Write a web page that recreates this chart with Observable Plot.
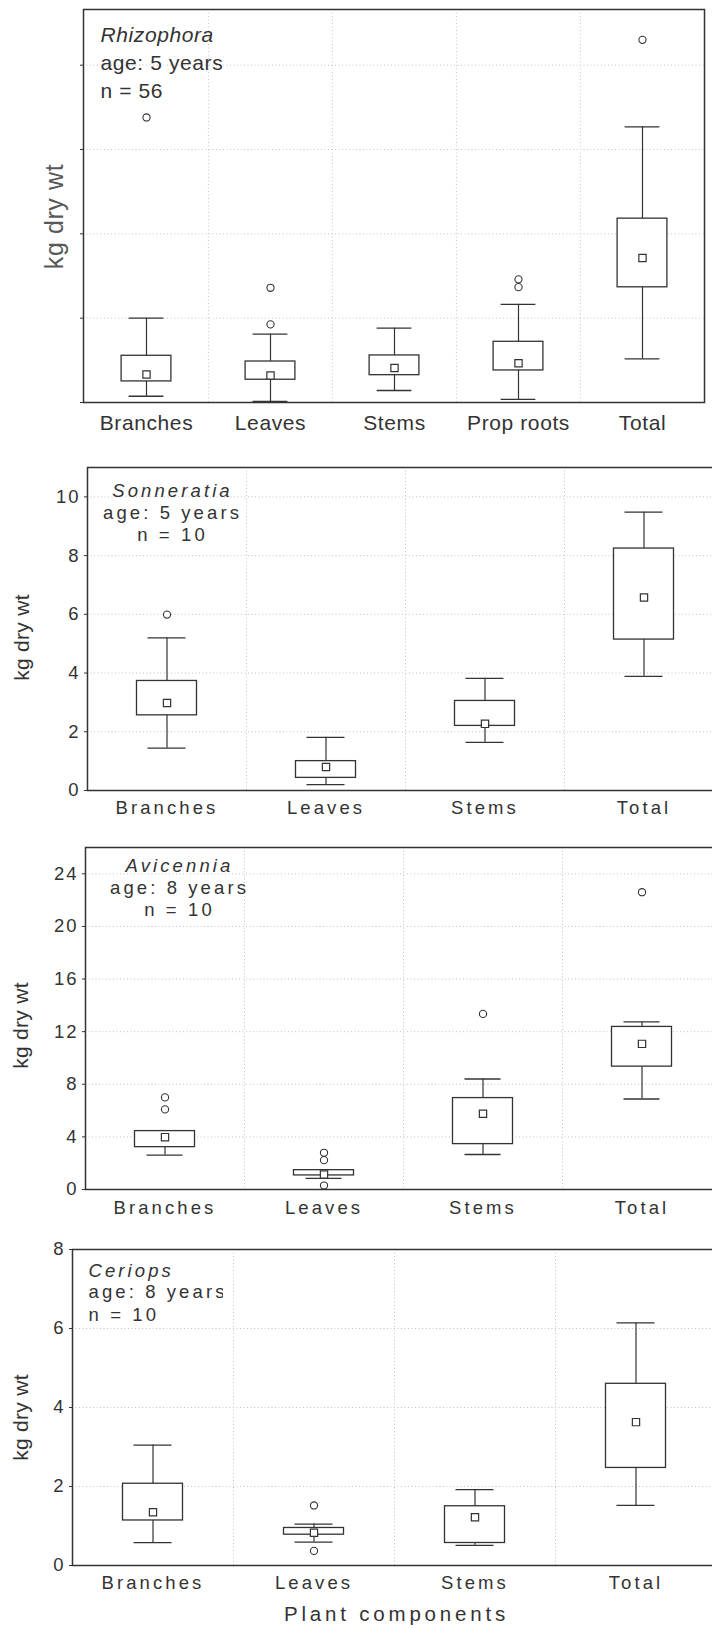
<!DOCTYPE html>
<html><head><meta charset="utf-8">
<script src="https://cdn.jsdelivr.net/npm/d3@7"></script>
<script src="https://cdn.jsdelivr.net/npm/@observablehq/plot@0.6"></script>
<style>
html,body{margin:0;padding:0;background:#fff;overflow:hidden;width:712px;height:1628px;}
#wrap svg{display:block;overflow:hidden;}
</style></head><body><div id="wrap"></div>
<script>
// ---------- data ----------
// Rhizophora (no y tick labels in original; arbitrary kg units)
const rhizoCats = ["Branches", "Leaves", "Stems", "Prop roots", "Total"];
const rhizoLo   = [0.37, 0.06, 0.71, 0.18, 2.59];
const rhizoQ1   = [1.25, 1.35, 1.62, 1.90, 6.83];
const rhizoQ3   = [2.77, 2.43, 2.79, 3.60, 10.9];
const rhizoHi   = [5.00, 4.05, 4.41, 5.82, 16.34];
const rhizoMean = [1.66, 1.60, 2.04, 2.33, 8.57];
const rhizoOutCat = ["Branches", "Leaves", "Leaves", "Prop roots", "Prop roots", "Total"];
const rhizoOutVal = [16.9, 6.8, 4.63, 7.3, 6.84, 21.5];
const rhizoTicks = [0, 5, 10, 15, 20];

// Sonneratia
const sonCats = ["Branches", "Leaves", "Stems", "Total"];
const sonLo   = [1.44, 0.20, 1.64, 3.89];
const sonQ1   = [2.56, 0.43, 2.20, 5.14];
const sonQ3   = [3.73, 1.00, 3.05, 8.24];
const sonHi   = [5.20, 1.81, 3.82, 9.48];
const sonMean = [2.98, 0.80, 2.27, 6.57];
const sonOutCat = ["Branches"];
const sonOutVal = [5.99];
const sonTicks = [0, 2, 4, 6, 8, 10];

// Avicennia
const aviCats = ["Branches", "Leaves", "Stems", "Total"];
const aviLo   = [2.61, 0.84, 2.66, 6.88];
const aviQ1   = [3.22, 1.07, 3.45, 9.34];
const aviQ3   = [4.44, 1.47, 6.95, 12.36];
const aviHi   = [4.44, 1.47, 8.40, 12.74];
const aviMean = [3.98, 1.14, 5.76, 11.07];
const aviOutCat = ["Branches", "Branches", "Leaves", "Leaves", "Leaves", "Stems", "Total"];
const aviOutVal = [7.0, 6.09, 2.79, 2.23, 0.30, 13.35, 22.6];
const aviTicks = [0, 4, 8, 12, 16, 20, 24];

// Ceriops
const cerCats = ["Branches", "Leaves", "Stems", "Total"];
const cerLo   = [0.58, 0.59, 0.51, 1.52];
const cerQ1   = [1.14, 0.78, 0.57, 2.47];
const cerQ3   = [2.07, 0.95, 1.50, 4.60];
const cerHi   = [3.05, 1.05, 1.92, 6.14];
const cerMean = [1.35, 0.83, 1.22, 3.63];
const cerOutCat = ["Leaves", "Leaves"];
const cerOutVal = [1.52, 0.37];
const cerTicks = [0, 2, 4, 6, 8];

const yLabel = "kg dry wt";
const xTitle = "Plant components";

// ---------- drawing ----------
const INK = "#333";
const GRID = "#c4c4c4";
const FONT = "'Liberation Sans', Arial, Helvetica, sans-serif";
let clipId = 0;

function panel(o) {
  const n = o.cats.length;
  const bw = (712 - o.ml - o.mr) / n;
  const rows = o.cats.map((c, i) => ({cat: c, lo: o.lo[i], q1: o.q1[i], q3: o.q3[i], hi: o.hi[i], mean: o.mean[i]}));
  const outs = o.outCat.map((c, i) => ({cat: c, v: o.outVal[i]}));
  const frameMid = o.mt + (o.height - o.mt - o.mb) / 2;
  const capIn = (bw - o.capW) / 2, boxIn = (bw - o.boxW) / 2;
  const marks = [
    Plot.ruleY(o.ticks.filter(t => t > 0 && t < o.top), {y: d => d, stroke: GRID, strokeDasharray: "1,2.5", strokeWidth: 1}),
    Plot.ruleX(o.cats.slice(1), {x: d => d, dx: -bw / 2, stroke: GRID, strokeDasharray: "1,2.5", strokeWidth: 1}),
    Plot.ruleX(rows, {x: "cat", y1: "lo", y2: "hi", stroke: INK, strokeWidth: 1.2}),
    Plot.tickY(rows, {x: "cat", y: "lo", insetLeft: capIn, insetRight: capIn, stroke: INK, strokeWidth: 1.3}),
    Plot.tickY(rows, {x: "cat", y: "hi", insetLeft: capIn, insetRight: capIn, stroke: INK, strokeWidth: 1.3}),
    Plot.barY(rows, {x: "cat", y1: "q1", y2: "q3", fill: "white", stroke: INK, strokeWidth: 1.3, insetLeft: boxIn, insetRight: boxIn}),
    Plot.dot(rows, {x: "cat", y: "mean", symbol: "square", r: 4.1, stroke: INK, fill: "white", strokeWidth: 1.2}),
    Plot.dot(outs, {x: "cat", y: "v", r: 3.6, stroke: INK, fill: "white", strokeWidth: 1.1}),
    Plot.frame({stroke: INK, strokeWidth: 1.5}),
    Plot.text([yLabel], {text: d => d, frameAnchor: "left", textAnchor: "middle", lineAnchor: "middle", rotate: -90,
      dx: o.ylx - o.ml, dy: o.yly - frameMid, fontSize: o.ylfs, fill: o.ylColor})
  ];
  o.notes.forEach((t, i) => {
    marks.push(Plot.text([t], {text: d => d, frameAnchor: "top-left", textAnchor: o.noteAnchor, lineAnchor: "bottom",
      dx: o.noteX - o.ml, dy: o.noteBase[i], fontSize: o.noteFs, fontStyle: i === 0 ? "italic" : "normal"}));
  });
  if (o.title) {
    marks.push(Plot.text([o.title], {text: d => d, frameAnchor: "bottom", textAnchor: "middle", lineAnchor: "bottom",
      dx: o.titleX - (o.ml + (712 - o.mr)) / 2, dy: o.titleDy, fontSize: o.titleFs}));
  }
  const svg = Plot.plot({
    width: 712, height: o.height,
    marginLeft: o.ml, marginRight: o.mr, marginTop: o.mt, marginBottom: o.mb,
    style: {fontFamily: FONT, fontSize: o.fs + "px", color: INK, background: "white", letterSpacing: o.ls + "px"},
    x: {domain: o.cats, padding: 0, label: null, tickSize: 0, tickPadding: o.xPad},
    y: {domain: [0, o.top], ticks: o.ticks, tickSize: 3, tickPadding: 4, label: null,
        tickFormat: o.hideY ? () => "" : d => String(d)},
    marks
  });
  const s = d3.select(svg);
  const byText = str => s.selectAll("text").filter(function () { return this.textContent === str; });
  s.selectAll('g[aria-label^="y-axis"] text').style("letter-spacing", o.yls + "px");
  byText(yLabel).style("letter-spacing", o.yLabelLs + "px");
  if (o.title) byText(o.title).style("letter-spacing", o.titleLs + "px");
  if (o.clipX) {
    const id = "clip" + (clipId++);
    s.append("defs").append("clipPath").attr("id", id).attr("clipPathUnits", "userSpaceOnUse")
      .append("rect").attr("x", 0).attr("y", 0).attr("width", o.clipX).attr("height", o.height);
    byText(o.notes[1]).each(function () {
      const grp = this.parentNode;
      const wrap = document.createElementNS("http://www.w3.org/2000/svg", "g");
      grp.parentNode.insertBefore(wrap, grp);
      wrap.appendChild(grp);
      wrap.setAttribute("clip-path", `url(#${id})`);
    });
  }
  document.getElementById("wrap").appendChild(svg);
}

panel({
  cats: rhizoCats, lo: rhizoLo, q1: rhizoQ1, q3: rhizoQ3, hi: rhizoHi, mean: rhizoMean,
  outCat: rhizoOutCat, outVal: rhizoOutVal, ticks: rhizoTicks, top: 23.3, hideY: true,
  height: 436, ml: 83, mr: 8, mt: 9, mb: 34, xPad: 13, fs: 21, ls: 0.6, yls: 0,
  boxW: 50, capW: 35,
  ylx: 54, yly: 216, ylfs: 25, ylColor: "#585858", yLabelLs: 0.6,
  notes: ["Rhizophora", "age: 5 years", "n = 56"], noteAnchor: "start", noteX: 100,
  noteBase: [32, 60, 88], noteFs: 21
});
panel({
  cats: sonCats, lo: sonLo, q1: sonQ1, q3: sonQ3, hi: sonHi, mean: sonMean,
  outCat: sonOutCat, outVal: sonOutVal, ticks: sonTicks, top: 11,
  height: 390, ml: 87, mr: -11, mt: 31, mb: 36, xPad: 10, fs: 18.5, ls: 3.1, yls: 2,
  boxW: 60, capW: 38,
  ylx: 22, yly: 201, ylfs: 21, ylColor: INK, yLabelLs: 0.3,
  notes: ["Sonneratia", "age: 5 years", "n = 10"], noteAnchor: "middle", noteX: 172,
  noteBase: [29, 51, 73], noteFs: 18.5, clipX: 239
});
panel({
  cats: aviCats, lo: aviLo, q1: aviQ1, q3: aviQ3, hi: aviHi, mean: aviMean,
  outCat: aviOutCat, outVal: aviOutVal, ticks: aviTicks, top: 26,
  height: 399, ml: 85, mr: -9, mt: 21, mb: 36, xPad: 11, fs: 18.5, ls: 3.1, yls: 2,
  boxW: 60, capW: 36,
  ylx: 21, yly: 199, ylfs: 21, ylColor: INK, yLabelLs: 0.3,
  notes: ["Avicennia", "age: 8 years", "n = 10"], noteAnchor: "middle", noteX: 179,
  noteBase: [24, 46, 68], noteFs: 18.5, clipX: 247
});
panel({
  cats: cerCats, lo: cerLo, q1: cerQ1, q3: cerQ3, hi: cerHi, mean: cerMean,
  outCat: cerOutCat, outVal: cerOutVal, ticks: cerTicks, top: 8,
  height: 403, ml: 72, mr: -4, mt: 24, mb: 63, xPad: 10, fs: 18.5, ls: 3.1, yls: 2,
  boxW: 60, capW: 38,
  ylx: 21, yly: 192, ylfs: 21, ylColor: INK, yLabelLs: 0.3,
  notes: ["Ceriops", "age: 8 years", "n = 10"], noteAnchor: "start", noteX: 88,
  noteBase: [27, 48, 71], noteFs: 18.5, clipX: 223,
  title: xTitle, titleX: 396, titleDy: 55, titleFs: 20.5, titleLs: 3.8
});
</script></body></html>
